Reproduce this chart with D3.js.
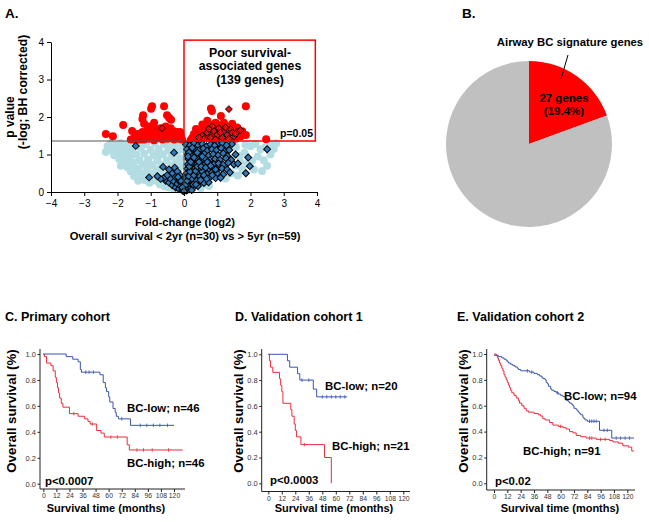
<!DOCTYPE html>
<html><head><meta charset="utf-8">
<script src="https://cdn.jsdelivr.net/npm/d3@7"></script>
<style>body{margin:0;background:#fff} svg{display:block}</style>
</head><body><svg id="c" width="649" height="522"></svg>
<script>
// ---------------- DATA ----------------
const volcanoXTicks = [-4,-3,-2,-1,0,1,2,3,4];
const volcanoYTicks = [0,1,2,3,4];
const pThreshold = 1.36;
const lightBluePts = [[-2.35,1.07],[-2.3,1.22],[-2.2,1.3],[-2.18,1.12],[-2.1,0.98],[-2.05,1.25],[-1.98,1.08],[-1.95,0.88],[-1.9,1.3],[-1.85,1.18],[-1.82,0.98],[-1.78,0.8],[-1.72,1.1],[-1.7,0.66],[-1.68,1.28],[-1.62,0.92],[-1.6,0.55],[-1.56,1.15],[-1.52,0.78],[-1.5,0.42],[-1.46,1.3],[-1.44,1.0],[-1.4,0.62],[-1.38,0.3],[-1.34,0.85],[-1.3,1.18],[-1.28,0.5],[-1.24,0.72],[-1.2,1.02],[-1.18,0.32],[-1.14,1.28],[-1.1,0.58],[-1.08,0.86],[-1.04,0.25],[-1.0,1.12],[-0.98,0.45],[-0.95,0.72],[-0.92,0.98],[-0.88,1.3],[-0.85,0.3],[-0.82,0.6],[-0.8,0.85],[-0.76,1.15],[-0.72,0.2],[-0.7,0.45],[-0.68,0.72],[-0.64,1.0],[-0.6,1.28],[-0.58,0.15],[-0.55,0.55],[-0.52,0.85],[-0.48,1.1],[-0.45,0.12],[-0.42,0.38],[-0.4,0.7],[-0.36,0.95],[-0.33,1.25],[-0.3,0.08],[-0.28,0.5],[-0.25,0.78],[-0.22,1.05],[-0.2,0.25],[-0.16,0.62],[-0.14,1.3],[-0.12,0.9],[-0.1,0.4],[-0.07,1.15],[-0.05,0.7],[-0.04,0.15],[-1.9,0.7],[-1.75,0.95],[-1.55,0.65],[-1.35,0.45],[-1.15,0.45],[-0.9,0.5],[-0.62,0.32],[-2.0,1.18],[-1.6,1.05],[-1.25,1.25],[-0.78,1.0],[-0.5,1.3],[-0.3,1.15],[-1.65,0.75],[-1.45,0.55],[-1.05,0.7],[-0.65,0.55],[-0.35,0.3],
 [0.04,1.3],[0.06,1.1],[0.08,0.9],[0.1,0.7],[0.12,0.5],[0.07,0.32],[0.18,1.22],[0.22,0.98],[0.3,0.8],[0.4,0.6],[2.77,1.3],[2.62,1.27],[2.45,1.2],[2.3,1.14],[2.15,1.28],[2.0,1.22],[1.85,1.26],[2.5,0.7],[2.22,0.95],[2.05,0.84],[1.92,0.76],[1.76,0.6],[1.66,0.96],[2.35,0.56],[1.62,0.44],[1.82,1.05],[2.6,1.0],[1.56,1.2],[1.42,0.5],[1.25,0.36],[0.75,0.16],[0.5,0.1],[2.4,0.85],[1.7,0.8],[2.1,0.6],[1.55,0.7],[1.3,1.3],[2.7,1.15]];
const redPts = [[-2.35,1.55],[-2.14,1.49],[-1.83,1.79],[-1.56,1.63],[-1.23,2.05],[-1.25,1.95],[-0.96,2.29],[-0.99,2.22],[-0.6,2.29],[-0.51,2.05],[-0.45,1.98],[-0.39,1.93],[-1.2,1.82],[-1.05,1.75],[-0.9,1.85],
 [-1.6,1.4],[-1.5,1.45],[-1.45,1.38],[-1.4,1.55],[-1.35,1.42],[-1.3,1.5],[-1.25,1.6],[-1.2,1.4],[-1.15,1.48],[-1.1,1.55],[-1.05,1.42],[-1.0,1.62],[-0.95,1.45],[-0.9,1.38],[-0.85,1.52],[-0.8,1.6],[-0.75,1.44],[-0.7,1.55],[-0.65,1.4],[-0.6,1.65],[-0.55,1.5],[-0.5,1.42],[-0.45,1.58],[-0.4,1.45],[-0.35,1.55],[-0.3,1.4],[-0.25,1.5],[-0.2,1.6],[-0.15,1.42],[-0.1,1.5],[-0.06,1.4],[-0.7,1.7],[-0.85,1.68],[-1.1,1.68],[-0.4,1.7],[-0.55,1.75],[-0.3,1.62],[-1.3,1.4],[-0.12,1.6],
 [0.81,2.23],[0.84,2.16],[1.11,2.03],[1.86,2.29],[1.86,1.52],[2.47,1.41],[0.36,1.68],[0.25,1.45],[0.3,1.55],[0.4,1.4],[0.45,1.6],[0.5,1.5],[0.55,1.42],[0.6,1.7],[0.65,1.55],[0.7,1.45],[0.75,1.8],[0.8,1.6],[0.85,1.4],[0.9,1.72],[0.95,1.5],[1.0,1.65],[1.05,1.42],[1.1,1.78],[1.15,1.55],[1.2,1.68],[1.25,1.45],[1.3,1.75],[1.35,1.6],[1.4,1.5],[1.45,1.82],[1.5,1.65],[1.55,1.42],[1.6,1.72],[1.65,1.55],[1.7,1.48],[1.75,1.62],[0.95,1.85],[0.55,1.8],[0.2,1.38],[1.2,1.85],[0.7,1.9]];
const redDiamondPts = [[1.35,2.21],[-0.66,1.7],[0.55,1.5],[0.7,1.58],[0.8,1.45],[0.9,1.62],[1.0,1.52],[1.05,1.7],[1.15,1.45],[1.2,1.6],[1.3,1.52],[1.4,1.68],[1.5,1.48],[1.6,1.6],[0.6,1.42],[0.85,1.75],[1.1,1.58],[1.25,1.72],[0.75,1.68],[0.95,1.4],[1.45,1.58],[1.7,1.65],[0.45,1.45],[1.35,1.42],[1.55,1.55]];
const blueDiamondPts = [[-1.45,1.23],[-0.3,1.05],[-0.63,0.67],[-1.05,0.39],[2.5,1.14],[1.93,0.92],[1.98,0.69],[1.86,0.5],[1.5,0.74],[1.44,1.28],[1.0,1.28],
 [-0.55,0.3],[-0.45,0.25],[-0.4,0.35],[-0.35,0.18],[-0.3,0.28],[-0.25,0.12],[-0.2,0.22],[-0.15,0.08],[-0.1,0.15],[-0.05,0.05],[-0.6,0.38],[-0.5,0.45],[-0.35,0.5],[-0.25,0.4],[-0.15,0.3],[-0.7,0.35],[-0.8,0.42],[-0.45,0.6],[-0.28,0.65],[-0.12,0.45],[-0.08,0.25],[-0.2,0.55],
 [0.06,1.27],[0.18,1.25],[0.3,1.3],[0.42,1.24],[0.55,1.28],[0.68,1.22],[0.8,1.27],[0.92,1.24],[1.15,1.3],[1.28,1.25],
 [0.09,1.14],[0.2,1.1],[0.33,1.15],[0.46,1.12],[0.58,1.16],[0.7,1.1],[0.84,1.14],[0.98,1.12],[1.12,1.17],[1.22,1.08],[1.36,1.12],
 [0.11,1.0],[0.23,0.98],[0.36,1.03],[0.49,0.99],[0.61,1.02],[0.74,0.97],[0.88,1.01],[1.03,0.98],[1.18,1.03],[1.3,0.96],[1.55,1.0],
 [0.13,0.88],[0.26,0.85],[0.39,0.9],[0.51,0.86],[0.64,0.89],[0.78,0.85],[0.93,0.88],[1.08,0.86],[1.26,0.9],[1.42,0.86],
 [0.12,0.74],[0.24,0.77],[0.37,0.72],[0.5,0.76],[0.62,0.73],[0.76,0.77],[0.9,0.74],[1.04,0.76],[1.18,0.73],[1.33,0.78],[1.62,0.76],
 [0.1,0.62],[0.21,0.6],[0.34,0.64],[0.47,0.61],[0.6,0.63],[0.72,0.6],[0.86,0.64],[1.0,0.61],[1.14,0.63],[1.3,0.6],
 [0.08,0.5],[0.19,0.48],[0.31,0.52],[0.44,0.49],[0.57,0.51],[0.7,0.48],[0.84,0.52],[1.0,0.5],[1.18,0.47],[1.38,0.52],
 [0.06,0.38],[0.16,0.36],[0.27,0.4],[0.39,0.37],[0.51,0.39],[0.64,0.36],[0.79,0.4],[0.95,0.37],[1.1,0.38],
 [0.05,0.26],[0.13,0.24],[0.23,0.27],[0.34,0.25],[0.46,0.27],[0.6,0.24],[0.74,0.26],
 [0.04,0.15],[0.11,0.13],[0.2,0.16],[0.3,0.14],[0.42,0.16],
 [0.02,0.06],[0.08,0.04],[0.15,0.07],[0.23,0.05],[-0.03,0.03],
 [0.03,0.1],[0.06,0.2],[0.1,0.3],[0.14,0.42],[0.18,0.55],[0.16,0.68],[0.2,0.8],[0.26,0.35],[0.3,0.45],[0.35,0.56],[0.4,0.68],[0.28,0.2],[0.38,0.3],[0.48,0.42],[0.55,0.55],[0.45,0.8],[0.52,0.68],[0.36,0.2],[0.5,0.32],[0.6,0.45],[0.65,0.65],[0.7,0.8],[0.8,0.7],[0.68,0.35],[0.85,0.45],[0.95,0.6],[0.55,0.95],[0.4,1.05],[0.25,1.18],[0.15,1.05],[-0.05,0.12],[-0.1,0.3],[-0.18,0.4],[0.0,0.02],[0.12,0.95],[0.3,0.92]];

const pieLabels = ["Airway BC signature genes", "Other poor survival-associated genes"];
const pieValues = [27, 112];

const kmMonthTicks = [0,12,24,36,48,60,72,84,96,108,120];
const kmSurvTicks = [0,0.2,0.4,0.6,0.8,1.0];

const cLow = [[0,1],[21,0.98],[27,0.96],[32,0.94],[34,0.88],[35,0.86],[52,0.84],[55,0.78],[57,0.74],[58,0.71],[60,0.67],[61,0.63],[64,0.58],[66,0.55],[67,0.52],[69,0.5],[80,0.45],[120,0.45]];
const cLowCensor = [39,42,46,72,89,95,101,107,114];
const cHigh = [[0,1],[1,0.98],[3,0.93],[7,0.91],[9,0.87],[11,0.82],[12,0.78],[13,0.74],[14,0.7],[15,0.66],[16.5,0.62],[18,0.59],[24,0.54],[32,0.52],[38,0.5],[41,0.48],[43,0.46],[49,0.41],[53,0.39],[56,0.36],[77,0.3],[79,0.26],[128,0.26]];
const cHighCensor = [28,45,62,68,86,92,100,115];

const dLow = [[0,1],[17,0.95],[19,0.9],[26,0.85],[28,0.8],[40,0.73],[43,0.67],[70,0.67]];
const dLowCensor = [30,36,48,52,56,60,64,68];
const dHigh = [[0,1],[1,0.95],[2,0.9],[4,0.86],[10,0.81],[11,0.76],[12,0.71],[13,0.62],[20,0.57],[21,0.52],[23,0.46],[24,0.41],[25,0.36],[29,0.3],[50,0.2],[56,0]];
const dHighCensor = [32];

const eLow = [[0,0.99],[4,0.98],[7,0.97],[9,0.96],[11,0.95],[12,0.94],[13,0.93],[15,0.92],[17,0.91],[19,0.9],[21,0.89],[22,0.88],[24,0.87],[32,0.86],[36,0.85],[39,0.84],[41,0.83],[43,0.82],[44,0.81],[46,0.8],[47,0.78],[48,0.77],[49,0.75],[51,0.73],[52,0.72],[54,0.71],[56,0.7],[58,0.69],[60,0.68],[62,0.67],[64,0.66],[65,0.64],[67,0.63],[68,0.62],[70,0.61],[71,0.6],[72,0.58],[74,0.57],[75,0.56],[76,0.55],[77,0.54],[78,0.53],[80,0.51],[81,0.5],[82,0.49],[84,0.48],[95,0.41],[106,0.35],[126,0.35]];
const eLowCensor = [30,34,57,86,88,90,92,99,102,110,114,118,122];
const eHigh = [[0,1],[2,0.99],[3,0.97],[4,0.95],[5,0.93],[6,0.91],[7,0.89],[8,0.87],[9,0.84],[10,0.82],[11,0.8],[12,0.78],[13,0.76],[14,0.74],[15,0.72],[16,0.7],[18,0.68],[20,0.66],[22,0.64],[23,0.62],[25,0.6],[27,0.58],[29,0.56],[31,0.55],[36,0.54],[40,0.53],[42,0.52],[44,0.5],[46,0.49],[50,0.47],[53,0.45],[58,0.44],[62,0.43],[65,0.42],[68,0.4],[71,0.39],[74,0.37],[78,0.36],[83,0.35],[92,0.34],[104,0.33],[107,0.32],[112,0.31],[116,0.29],[121,0.28],[124,0.25],[126,0.25]];
const eHighCensor = [60,86,88,96,100];

// ---------------- DRAW ----------------
const FONT = '"Liberation Sans", Arial, Helvetica, sans-serif';
const svg = d3.select("#c").attr("font-family", FONT);
svg.append("rect").attr("width",649).attr("height",522).attr("fill","#fff");

function txt(g, x, y, s, size, opts={}) {
  const t = g.append("text").attr("x",x).attr("y",y).text(s)
    .attr("font-size",size).attr("font-weight",opts.weight||"bold")
    .attr("text-anchor",opts.anchor||"start").attr("fill","#000");
  if (opts.rotate) t.attr("transform",`rotate(-90,${x},${y})`);
  return t;
}

// ---- Panel A: volcano ----
const vx = d3.scaleLinear().domain([-4,4]).range([51,317]);
const vy = d3.scaleLinear().domain([0,4]).range([192,42]);
const gA = svg.append("g");
gA.append("g").selectAll("circle").data(lightBluePts).join("circle")
  .attr("cx",d=>vx(d[0])).attr("cy",d=>vy(d[1])).attr("r",4).attr("fill","#b3dde2");
gA.append("g").selectAll("circle").data(redPts).join("circle")
  .attr("cx",d=>vx(d[0])).attr("cy",d=>vy(d[1])).attr("r",4).attr("fill","#ff0000");
const diamond = d3.symbol(d3.symbolSquare, 24);
gA.append("g").selectAll("path").data(blueDiamondPts).join("path")
  .attr("d",diamond).attr("transform",d=>`translate(${vx(d[0])},${vy(d[1])}) rotate(45)`)
  .attr("fill","#2e78b8").attr("stroke","#000").attr("stroke-width",1);
gA.append("g").selectAll("path").data(redDiamondPts).join("path")
  .attr("d",diamond).attr("transform",d=>`translate(${vx(d[0])},${vy(d[1])}) rotate(45)`)
  .attr("fill","#e01010").attr("stroke","#000").attr("stroke-width",0.9);

// threshold + zero lines
gA.append("line").attr("x1",vx(-4)).attr("x2",vx(0)).attr("y1",vy(pThreshold)).attr("y2",vy(pThreshold)).attr("stroke","#555").attr("stroke-width",1);
gA.append("line").attr("x1",vx(0)).attr("x2",vx(0)).attr("y1",vy(0)).attr("y2",vy(pThreshold)).attr("stroke","#555").attr("stroke-width",1);
gA.append("rect").attr("x",vx(0)).attr("y",vy(4.05)).attr("width",vx(3.95)-vx(0)).attr("height",vy(pThreshold)-vy(4.05))
  .attr("fill","none").attr("stroke","#ff0000").attr("stroke-width",1.5);

const axA = gA.append("g").attr("transform",`translate(0,${vy(0)})`)
  .call(d3.axisBottom(vx).tickValues(volcanoXTicks).tickFormat(d3.format("d")).tickSize(4).tickPadding(4).tickSizeOuter(0));
const ayA = gA.append("g").attr("transform",`translate(${vx(-4)},0)`)
  .call(d3.axisLeft(vy).tickValues(volcanoYTicks).tickFormat(d3.format("d")).tickSize(4).tickPadding(3).tickSizeOuter(0));
[axA, ayA].forEach(a => { a.attr("font-family",FONT).attr("font-size",10); a.selectAll("text").attr("fill","#000"); a.selectAll("line,path").attr("stroke","#000"); });

txt(gA, 250, 56.5, "Poor survival-", 12.3, {anchor:"middle"});
txt(gA, 250, 70, "associated genes", 12.3, {anchor:"middle"});
txt(gA, 250, 83.5, "(139 genes)", 12.3, {anchor:"middle"});
txt(gA, 313, 137, "p=0.05", 10.5, {anchor:"end"});
txt(gA, 185, 226, "Fold-change (log2)", 11.2, {anchor:"middle"});
txt(gA, 185, 239.5, "Overall survival < 2yr (n=30) vs > 5yr (n=59)", 11.2, {anchor:"middle"});
txt(gA, 14, 117, "p value", 12, {anchor:"middle", rotate:true});
txt(gA, 27, 92, "(-log; BH corrected)", 12.2, {anchor:"middle", rotate:true});
txt(gA, 5, 18, "A.", 13.5);

// ---- Panel B: pie ----
const gB = svg.append("g");
const pieColors = ["#ff0000", "#c0c0c0"];
const arcs = d3.pie().sort(null).value(d=>d)(pieValues);
const arc = d3.arc().innerRadius(0).outerRadius(83);
gB.append("g").attr("transform","translate(529,144)").selectAll("path").data(arcs).join("path")
  .attr("d",arc).attr("fill",(d,i)=>pieColors[i]);
txt(gB, 462, 18, "B.", 13.5);
txt(gB, 570, 46, pieLabels[0], 11.3, {anchor:"middle"});
gB.append("line").attr("x1",568).attr("y1",55).attr("x2",561).attr("y2",79).attr("stroke","#000").attr("stroke-width",1);
txt(gB, 564, 102, `${pieValues[0]} genes`, 11.5, {anchor:"middle"});
txt(gB, 564, 115, `(${(pieValues[0]/(pieValues[0]+pieValues[1])*100).toFixed(1)}%)`, 11.5, {anchor:"middle"});

// ---- KM panels ----
function survAt(arr, t) { let v = arr[0][1]; for (const p of arr) { if (p[0] <= t) v = p[1]; } return v; }
function drawKM(cfg) {
  const g = svg.append("g");
  const x = d3.scaleLinear().domain([0,120]).range([cfg.x0, cfg.x1]);
  const y = d3.scaleLinear().domain([0,1]).range([cfg.yBot, cfg.yTop]);
  g.append("line").attr("x1",cfg.axX).attr("x2",cfg.axX).attr("y1",cfg.axYTop).attr("y2",cfg.axY).attr("stroke","#222");
  g.append("line").attr("x1",cfg.axX).attr("x2",cfg.axXEnd).attr("y1",cfg.axY).attr("y2",cfg.axY).attr("stroke","#222");
  const xa = g.append("g").attr("transform",`translate(0,${cfg.axY})`)
    .call(d3.axisBottom(x).tickValues(kmMonthTicks).tickSize(3).tickPadding(1.5));
  const ya = g.append("g").attr("transform",`translate(${cfg.axX},0)`)
    .call(d3.axisLeft(y).tickValues(kmSurvTicks).tickFormat(d3.format(".1f")).tickSize(2.5).tickPadding(1.5));
  [xa, ya].forEach(a => { a.select(".domain").remove(); a.attr("font-family",FONT).attr("font-size",7.5);
    a.selectAll("text").attr("fill","#333"); a.selectAll("line").attr("stroke","#222"); });
  xa.selectAll("text").attr("font-size",6.8);
  const line = d3.line().x(d=>x(d[0])).y(d=>y(d[1])).curve(d3.curveStepAfter);
  const series = [[cfg.high, cfg.highCensor, "#ee2b3b"], [cfg.low, cfg.lowCensor, "#3a55b2"]];
  series.forEach(([arr, cens, col]) => {
    g.append("path").attr("d", line(arr)).attr("fill","none").attr("stroke",col).attr("stroke-width",1);
    g.append("g").selectAll("line").data(cens).join("line")
      .attr("x1",t=>x(t)).attr("x2",t=>x(t)).attr("y1",t=>y(survAt(arr,t))-1.8).attr("y2",t=>y(survAt(arr,t))+1.8)
      .attr("stroke",col).attr("stroke-width",0.8);
  });
  txt(g, cfg.tx, 321, cfg.title, 12.5);
  txt(g, cfg.yTitleX, 411, "Overall survival (%)", 13.3, {anchor:"middle", rotate:true});
  txt(g, cfg.xTitleX, 512, "Survival time (months)", 11, {anchor:"middle"});
  txt(g, cfg.lowLab[0], cfg.lowLab[1], cfg.lowText, 11.4);
  txt(g, cfg.highLab[0], cfg.highLab[1], cfg.highText, 11.4);
  txt(g, cfg.pLab[0], cfg.pLab[1], cfg.pText, 11.4);
}

drawKM({title:"C. Primary cohort", tx:5, x0:43.3, x1:174, yTop:354, yBot:483.7, axX:40, axY:489, axXEnd:185, axYTop:349,
  low:cLow, lowCensor:cLowCensor, high:cHigh, highCensor:cHighCensor, yTitleX:16, xTitleX:106,
  lowLab:[127,412], lowText:"BC-low; n=46", highLab:[127,467], highText:"BC-high; n=46", pLab:[45,485], pText:"p<0.0007"});
drawKM({title:"D. Validation cohort 1", tx:235, x0:268.3, x1:403.3, yTop:354.3, yBot:483.3, axX:261.7, axY:491.5, axXEnd:410, axYTop:349,
  low:dLow, lowCensor:dLowCensor, high:dHigh, highCensor:dHighCensor, yTitleX:243, xTitleX:334,
  lowLab:[325,390], lowText:"BC-low; n=20", highLab:[332,450], highText:"BC-high; n=21", pLab:[270,484], pText:"p<0.0003"});
drawKM({title:"E. Validation cohort 2", tx:457, x0:494, x1:627.3, yTop:354, yBot:483.3, axX:486.7, axY:490, axXEnd:635, axYTop:349,
  low:eLow, lowCensor:eLowCensor, high:eHigh, highCensor:eHighCensor, yTitleX:468, xTitleX:560,
  lowLab:[564,400], lowText:"BC-low; n=94", highLab:[523,455], highText:"BC-high; n=91", pLab:[495,485], pText:"p<0.02"});
</script></body></html>
